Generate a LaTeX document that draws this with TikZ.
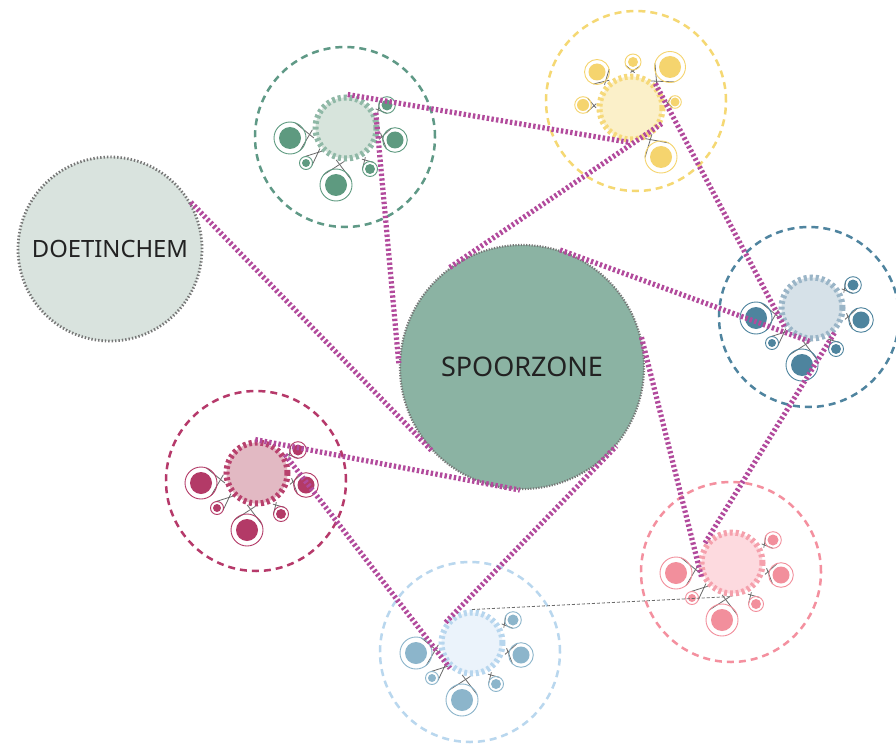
\documentclass[tikz,border=0pt]{standalone}
\usepackage{fontspec}
\setmainfont{Noto Sans}
\usetikzlibrary{calc}
\definecolor{mag}{HTML}{B24A9C}
\definecolor{dotgray}{HTML}{767676}
\definecolor{tiegray}{HTML}{6A6A6A}
\definecolor{txt}{HTML}{222222}
\definecolor{doetfill}{HTML}{D9E3DE}
\definecolor{spoorfill}{HTML}{8BB3A3}
% green
\definecolor{gOut}{HTML}{5F9986}\definecolor{gFill}{HTML}{D7E4DC}\definecolor{gTick}{HTML}{8FB8A6}\definecolor{gSat}{HTML}{5E9A80}
% yellow
\definecolor{yOut}{HTML}{F5D873}\definecolor{yFill}{HTML}{FBF0C9}\definecolor{yTick}{HTML}{F6D97A}\definecolor{ySat}{HTML}{F5D46E}
% blue
\definecolor{bOut}{HTML}{4F849F}\definecolor{bFill}{HTML}{D6E1E8}\definecolor{bTick}{HTML}{9AB5C7}\definecolor{bSat}{HTML}{4E849E}
% crimson
\definecolor{cOut}{HTML}{B6396A}\definecolor{cFill}{HTML}{E2B9C3}\definecolor{cTick}{HTML}{B8416D}\definecolor{cSat}{HTML}{B33A67}
% light blue
\definecolor{lOut}{HTML}{B9D7EE}\definecolor{lFill}{HTML}{EBF3FB}\definecolor{lTick}{HTML}{B7D6EE}\definecolor{lSat}{HTML}{8CB5CB}
% pink
\definecolor{pOut}{HTML}{F4909F}\definecolor{pFill}{HTML}{FDDADF}\definecolor{pTick}{HTML}{F5A0AC}\definecolor{pSat}{HTML}{F28F9C}

\newcommand\satel[6]{%
  \coordinate (s) at ($(#1)+(#2,#3)$);
  \coordinate (sp) at ($(#1)!37pt!(s)$);
  \coordinate (sa) at ($(s)!#5pt!60:(#1)$);
  \coordinate (sb) at ($(s)!#5pt!-60:(#1)$);
  \draw[tie] (sa) -- ($(sa)!1.3!(sp)$);
  \draw[tie] (sb) -- ($(sb)!1.3!(sp)$);
  \fill[#6] (s) circle (#4);
  \draw[#6, line width=0.9pt] (s) circle (#5);
}
\newcommand\stdsats[2]{%
  \satel{#1}{-56}{10}{11}{16}{#2}
  \satel{#1}{-40}{35}{4}{6.5}{#2}
  \satel{#1}{-10}{57}{11}{16}{#2}
  \satel{#1}{24}{41}{5}{7.5}{#2}
  \satel{#1}{49}{12}{8.5}{12.3}{#2}
  \satel{#1}{41}{-23}{5.5}{8.3}{#2}
}

\begin{document}
\begin{tikzpicture}[x=1pt,y=-1pt,
  bigc/.style={circle, inner sep=0pt, draw=dotgray, text=txt},
  innerc/.style={circle, inner sep=0pt, minimum size=61pt, line width=6pt, dash pattern=on 3pt off 2.9pt},
  clus/.style={circle, inner sep=0pt, minimum size=180pt, line width=2.5pt, dash pattern=on 7pt off 5pt},
  link/.style={draw=mag, line width=5.2pt, dash pattern=on 2.4pt off 2.3pt},
  thinlink/.style={draw=tiegray, line width=0.8pt, dash pattern=on 3pt off 2pt},
  tie/.style={draw=tiegray, line width=0.8pt},
]
\useasboundingbox (0,0) rectangle (896,746);
\fill[white] (0,0) rectangle (896,746);

% cluster outlines
\node[clus, draw=gOut] (gO) at (345,137) {};
\node[clus, draw=yOut] (yO) at (636,101) {};
\node[clus, draw=bOut] (bO) at (809,317) {};
\node[clus, draw=cOut] (cO) at (256,481) {};
\node[clus, draw=lOut] (lO) at (470,652) {};
\node[clus, draw=pOut] (pO) at (731,572) {};

% main places
\node[bigc, fill=doetfill, minimum size=184pt, line width=2.8pt, dash pattern=on 1.4pt off 2pt,
      font=\fontsize{23.8}{28}\selectfont] (doet) at (110,249) {DOETINCHEM};
\node[bigc, fill=spoorfill, minimum size=244pt, line width=2.2pt, dash pattern=on 1.2pt off 1.5pt,
      font=\fontsize{27}{32}\selectfont] (spoor) at (522,367) {SPOORZONE};

% cluster centres
\coordinate (gc) at (346,128);
\coordinate (yc) at (631,108);
\coordinate (bc) at (812,308);
\coordinate (cc) at (257,473);
\coordinate (lc) at (472,643);
\coordinate (pc) at (732,563);

% satellites
\stdsats{gc}{gSat}
\stdsats{bc}{bSat}
\stdsats{cc}{cSat}
\stdsats{lc}{lSat}
\stdsats{pc}{pSat}
\satel{yc}{-34}{-36}{8.5}{12.5}{ySat}
\satel{yc}{2}{-46}{5}{8}{ySat}
\satel{yc}{39}{-41}{11}{15.5}{ySat}
\satel{yc}{44}{-6}{4.5}{6.3}{ySat}
\satel{yc}{-48}{-3}{6}{8.3}{ySat}
\satel{yc}{30}{49}{11}{16}{ySat}

% inner circles
\node[innerc, fill=gFill, draw=gTick] (g) at (gc) {};
\node[innerc, fill=yFill, draw=yTick, minimum size=63pt] (y) at (yc) {};
\node[innerc, fill=bFill, draw=bTick] (b) at (bc) {};
\node[innerc, fill=cFill, draw=cTick] (c) at (cc) {};
\node[innerc, fill=lFill, draw=lTick] (l) at (lc) {};
\node[innerc, fill=pFill, draw=pTick] (p) at (pc) {};

% links
\draw[link] (doet.30) -- (spoor.223);
\draw[link] (g.87) -- (y.268);
\draw[link] (g.27) -- (spoor.179);
\draw[link] (y.333) -- (spoor.127);
\draw[link] (y.45) -- (b.216);
\draw[link] (spoor.72) -- (b.266);
\draw[link] (b.312) -- (p.146);
\draw[link] (spoor.14) -- (p.204);
\draw[link] (c.33) -- (l.229);
\draw[link] (c.93) -- (spoor.269);
\draw[link] (l.142) -- (spoor.320);
\draw[thinlink] (l.90) -- (p.270);
\end{tikzpicture}
\end{document}
